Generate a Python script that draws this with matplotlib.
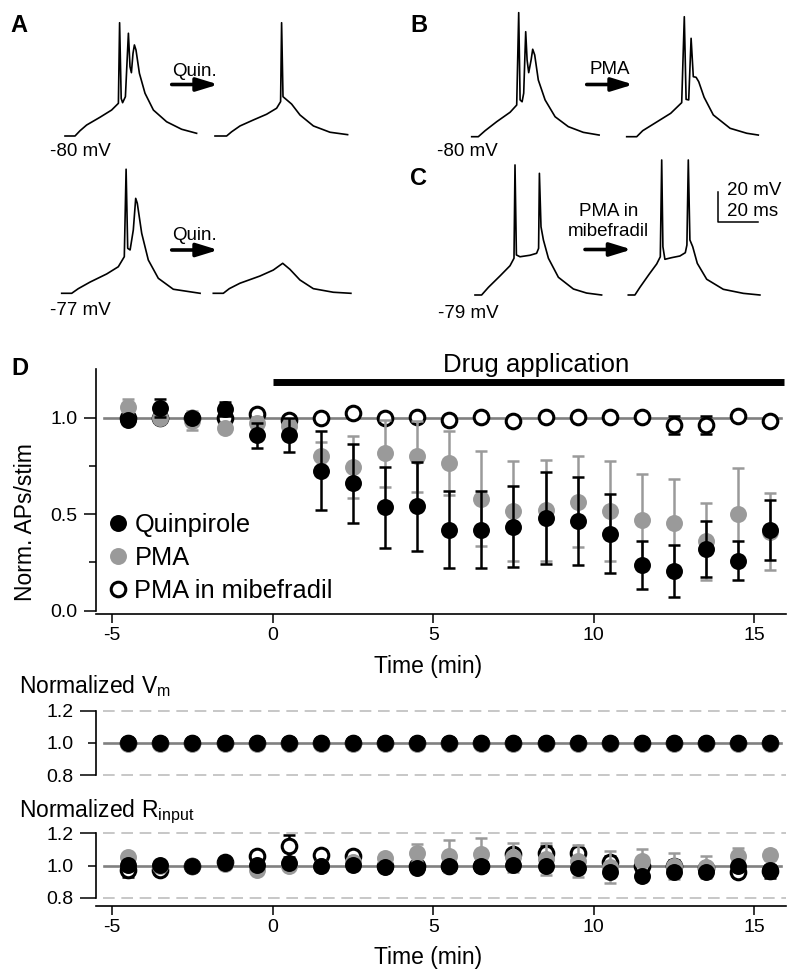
import matplotlib
matplotlib.use("Agg")
import matplotlib.pyplot as plt
from matplotlib.lines import Line2D

plt.rcParams["font.family"] = ["Liberation Sans", "DejaVu Sans"]
plt.rcParams["axes.unicode_minus"] = False
plt.rcParams["mathtext.default"] = "regular"
plt.rcParams["lines.scale_dashes"] = False

A_CTRL1_T = [0, 5, 7.5, 10.8, 17.5, 23.3, 26.7, 27.3, 28.1, 28.8, 30.2, 31.7, 32.5, 33.2, 34.0, 34.7, 35.5, 37.2, 40.0, 44.2, 50.8, 58.3, 65.8]
A_CTRL1_V = [-80, -80, -76.5, -72.7, -67.5, -62.7, -58.2, -4.5, -55, -57.8, -53.8, -11.5, -33.8, -37.8, -24.9, -19.3, -22.7, -38.2, -51.5, -62.7, -70.5, -75.5, -78.2]
A_QUIN1_T = [0, 5.8, 8.3, 12.5, 19.2, 25.8, 30.8, 32.8, 33.3, 34.0, 35.5, 38.3, 42.5, 49.2, 57.5, 66.3]
A_QUIN1_V = [-80, -80, -77.2, -73.3, -69.3, -65.5, -61.5, -57.1, -4.5, -53.8, -55.5, -58.7, -66, -73.3, -77.5, -79.1]
A_CTRL2_T = [0, 5, 8.3, 14.2, 22.5, 28.3, 31.3, 32.2, 33.0, 34.2, 35.8, 37.0, 37.8, 40.0, 43.3, 48.3, 55.8, 69.2]
A_CTRL2_V = [-77, -77, -73.9, -69.5, -64.1, -59.3, -52.6, 5.7, -47, -48.1, -34.8, -13.7, -17, -37, -54.8, -67, -74.3, -77]
A_QUIN2_T = [0, 5, 8, 13.3, 23.3, 30, 34.7, 38.3, 43.3, 50, 60, 68.8]
A_QUIN2_V = [-77, -77, -73.9, -70.3, -65.5, -61.5, -57, -61, -68.1, -73.9, -76.3, -77]
B_CTRL_T = [0, 3.3, 6.7, 12.5, 19.2, 22.5, 23.5, 24.2, 25.2, 26.0, 27.0, 27.7, 28.5, 29.7, 30.5, 31.5, 33.3, 36.7, 41.7, 48.3, 55.8, 63.7]
B_CTRL_V = [-80, -80, -76, -70, -63.7, -58.9, 2.7, -55.5, -56.7, -51, -10, -28.9, -37.3, -28.9, -21.7, -25.5, -42.2, -55.5, -66.7, -73.3, -77.1, -78.9]
B_PMA_T = [0, 5, 8, 15, 22, 27.5, 28.8, 29.7, 31.0, 32.2, 33.3, 34.7, 36.0, 38.7, 43.3, 51.7, 60, 65.8]
B_PMA_V = [-80, -80, -76, -70.2, -64.4, -57.3, 0, -55.1, -55.5, -14.4, -40, -40.4, -43.3, -53.7, -65.5, -74.4, -77.7, -78.9]
C_CTRL_T = [0, 3.3, 6.7, 12.5, 17.5, 19.5, 20.0, 20.7, 22.5, 27.5, 30.8, 31.8, 32.2, 33.0, 34.2, 36.7, 41.7, 49.2, 55.8, 63.3]
C_CTRL_V = [-79, -79, -73.9, -66.3, -59.5, -54.5, 7.7, -52.3, -53.5, -52.5, -51.2, -47.9, 2.1, -33.5, -42.3, -54.5, -67.2, -75, -77.7, -79]
C_PMA_T = [0, 3.3, 5.8, 10.5, 14.2, 16.0, 16.7, 17.3, 18.3, 21.7, 25.8, 28.5, 29.3, 30.0, 30.8, 32.2, 34.5, 39.2, 47.5, 57.5, 65.8]
C_PMA_V = [-79, -79, -73.9, -65, -58.3, -53.5, 11, -46.8, -55.2, -54.1, -53, -50.8, -45.7, 11, -42.3, -46.8, -57.9, -68.5, -75.2, -77.9, -79]

# ---- time course (min) ----
TIME = [-4.5, -3.5, -2.5, -1.5, -0.5, 0.5, 1.5, 2.5, 3.5, 4.5, 5.5,
        6.5, 7.5, 8.5, 9.5, 10.5, 11.5, 12.5, 13.5, 14.5, 15.5]

QUIN_AP = [0.99, 1.05, 1.00, 1.045, 0.91, 0.91, 0.725, 0.66, 0.535, 0.54, 0.42,
           0.42, 0.435, 0.48, 0.465, 0.40, 0.235, 0.205, 0.32, 0.26, 0.42]
QUIN_AP_ERR = [0.02, 0.045, 0.02, 0.035, 0.065, 0.09, 0.205, 0.205, 0.21, 0.23, 0.2,
               0.2, 0.21, 0.24, 0.23, 0.205, 0.125, 0.135, 0.146, 0.1, 0.156]
PMA_AP = [1.055, 1.0, 0.985, 0.945, 0.975, 0.955, 0.80, 0.745, 0.815, 0.80, 0.765,
          0.58, 0.515, 0.52, 0.565, 0.515, 0.47, 0.455, 0.36, 0.50, 0.41]
PMA_AP_ERR = [0.04, 0.03, 0.05, 0.02, 0.03, 0.03, 0.075, 0.16, 0.175, 0.185, 0.167,
              0.245, 0.26, 0.26, 0.235, 0.26, 0.24, 0.225, 0.2, 0.24, 0.2]
MIB_AP = [1.0, 1.0, 1.0, 1.0, 1.02, 0.99, 1.0, 1.026, 1.0, 1.005, 0.988,
          1.005, 0.985, 1.005, 1.005, 1.005, 1.005, 0.962, 0.962, 1.01, 0.985]
MIB_AP_ERR = [0.01, 0.01, 0.01, 0.01, 0.01, 0.02, 0.01, 0.01, 0.01, 0.01, 0.015,
              0.01, 0.01, 0.01, 0.01, 0.01, 0.01, 0.047, 0.047, 0.01, 0.01]

QUIN_VM = [1.0, 1.0, 1.0, 1.0, 1.0, 1.0, 1.0, 1.0, 1.0, 1.0, 1.0,
           1.0, 1.0, 1.0, 1.0, 1.0, 1.0, 1.0, 1.0, 1.0, 1.0]
PMA_VM = [0.995, 0.995, 0.995, 0.995, 0.995, 0.995, 0.995, 0.995, 0.995, 0.995, 0.995,
          0.995, 0.995, 0.995, 0.995, 0.995, 0.995, 0.995, 0.995, 0.995, 0.995]
MIB_VM = [1.0, 1.0, 1.0, 1.0, 1.0, 1.0, 1.0, 1.0, 1.0, 1.0, 1.0,
          1.0, 1.0, 1.0, 1.0, 1.0, 1.0, 1.0, 1.0, 1.0, 1.0]

QUIN_RI = [1.005, 1.005, 1.0, 1.015, 1.005, 1.015, 1.0, 1.005, 0.99, 0.985, 0.995,
           0.995, 1.005, 0.995, 0.985, 0.96, 0.935, 0.96, 0.96, 0.995, 0.975]
QUIN_RI_ERR = [0.015, 0.015, 0.01, 0.01, 0.015, 0.02, 0.015, 0.01, 0.01, 0.015, 0.015,
               0.015, 0.015, 0.015, 0.015, 0.02, 0.015, 0.02, 0.02, 0.02, 0.02]
PMA_RI = [1.05, 1.0, 1.0, 1.01, 0.975, 0.995, 1.0, 1.02, 1.045, 1.08, 1.06,
          1.07, 1.05, 1.04, 1.03, 0.99, 1.025, 0.995, 0.99, 1.06, 1.065]
PMA_RI_ERR = [0.02, 0.01, 0.01, 0.01, 0.02, 0.02, 0.01, 0.02, 0.025, 0.055, 0.1,
              0.1, 0.09, 0.1, 0.1, 0.1, 0.075, 0.08, 0.07, 0.05, 0.03]
MIB_RI = [0.975, 0.97, 1.0, 1.02, 1.06, 1.12, 1.065, 1.06, 1.0, 1.0, 1.0,
          1.0, 1.07, 1.08, 1.08, 1.02, 1.0, 0.995, 0.985, 0.96, 0.965]
MIB_RI_ERR = [0.045, 0.02, 0.01, 0.01, 0.02, 0.07, 0.03, 0.01, 0.01, 0.01, 0.01,
              0.01, 0.02, 0.04, 0.03, 0.04, 0.045, 0.04, 0.03, 0.03, 0.04]

W, H = 800, 977
GRAY = "#9a9a9a"
LINE_GRAY = "#808080"


def fx(x):
    return x / W


def fy(y):
    return 1 - y / H


fig = plt.figure(figsize=(W / 100, H / 100), dpi=100)

# ---------------- traces ----------------
axt = fig.add_axes([0, fy(300), 1, 300 / H])
axt.set_xlim(0, 400)   # 2 px per ms
axt.set_ylim(0, 200)   # 1.5 px per mV
axt.axis("off")

traces = [
    (A_CTRL1_T, A_CTRL1_V, 65, 136),
    (A_QUIN1_T, A_QUIN1_V, 215, 136),
    (A_CTRL2_T, A_CTRL2_V, 61.7, 293.3),
    (A_QUIN2_T, A_QUIN2_V, 213.3, 293.3),
    (B_CTRL_T, B_CTRL_V, 471.7, 136.7),
    (B_PMA_T, B_PMA_V, 626.7, 136.7),
    (C_CTRL_T, C_CTRL_V, 475, 295),
    (C_PMA_T, C_PMA_V, 628.3, 295),
]
for t, v, x0, y0 in traces:
    xs = [x0 / 2 + ti for ti in t]
    ys = [(300 - y0) / 1.5 + (vi - v[0]) for vi in v]
    axt.plot(xs, ys, color="black", lw=1.2, solid_joinstyle="round")


def arrow(x1, x2, y):
    axt.annotate("", xy=(x2 / 2, (300 - y) / 1.5), xytext=(x1 / 2, (300 - y) / 1.5),
                 arrowprops=dict(arrowstyle="-|>,head_length=0.65,head_width=0.2",
                                 lw=2.6, color="black", mutation_scale=20,
                                 shrinkA=0, shrinkB=0))


arrow(171.7, 218.3, 84.5)
arrow(171.7, 218.3, 250)
arrow(586.7, 633.3, 84.5)
arrow(585, 631.7, 249.5)

# scale bar 20 mV / 20 ms
axt.plot([718.3 / 2, 718.3 / 2, 718.3 / 2 + 20],
         [(300 - 221.7) / 1.5 + 20, (300 - 221.7) / 1.5, (300 - 221.7) / 1.5],
         color="black", lw=1.1)

TR_FS = 13.5
fig.text(fx(50), fy(156), "-80 mV", fontsize=TR_FS, va="baseline")
fig.text(fx(50), fy(315), "-77 mV", fontsize=TR_FS, va="baseline")
fig.text(fx(436.7), fy(156), "-80 mV", fontsize=TR_FS, va="baseline")
fig.text(fx(438), fy(318), "-79 mV", fontsize=TR_FS, va="baseline")
fig.text(fx(194.2), fy(75.5), "Quin.", fontsize=TR_FS, va="baseline", ha="center")
fig.text(fx(194.2), fy(240.5), "Quin.", fontsize=TR_FS, va="baseline", ha="center")
fig.text(fx(610), fy(74.5), "PMA", fontsize=TR_FS, va="baseline", ha="center")
fig.text(fx(608.3), fy(216), "PMA in", fontsize=TR_FS, va="baseline", ha="center")
fig.text(fx(608.3), fy(236), "mibefradil", fontsize=TR_FS, va="baseline", ha="center")
fig.text(fx(726.7), fy(195), "20 mV", fontsize=TR_FS, va="baseline")
fig.text(fx(726.7), fy(216), "20 ms", fontsize=TR_FS, va="baseline")

for letter, x, y in [("A", 10, 31.7), ("B", 410, 31.7), ("C", 410, 185), ("D", 11.7, 375)]:
    fig.text(fx(x), fy(y), letter, fontsize=17, fontweight="bold", va="baseline")

# ---------------- time course panels ----------------
AX_L = 96.2
AX_W = (786.3 - 96.2) / W
TICK_FS = 14
LAB_FS = 16.5

styles = {
    "mib": dict(mfc="white", mec="black", ms=10.5, mew=2.2, ecolor="black", zorder=3),
    "pma": dict(mfc=GRAY, mec=GRAY, ms=12.2, mew=0, ecolor=GRAY, zorder=4),
    "quin": dict(mfc="black", mec="black", ms=12.2, mew=0, ecolor="black", zorder=5),
}


def draw_series(ax, y, e, key):
    st = styles[key]
    if e is not None:
        ax.errorbar(TIME, y, yerr=e, fmt="none", ecolor=st["ecolor"], elinewidth=1.8,
                    capsize=4.2, capthick=1.8, zorder=st["zorder"], clip_on=False)
    ax.plot(TIME, y, ls="none", marker="o", mfc=st["mfc"], mec=st["mec"], ms=st["ms"],
            mew=st["mew"], zorder=st["zorder"] + 0.1, clip_on=False)


def ref_lines(ax, dashed):
    ax.plot([-5.25, 15.85], [1.0, 1.0], color=LINE_GRAY, lw=1.9, zorder=1, clip_on=False)
    if dashed:
        for yv in (0.8, 1.2):
            ax.plot([-5.3, 16.0], [yv, yv], color="#b8b8b8", lw=1.1,
                    ls=(0, (8.4, 4.8)), zorder=0, clip_on=False)


def base_axes(ax):
    for s in ("top", "right"):
        ax.spines[s].set_visible(False)
    for s in ("left", "bottom"):
        ax.spines[s].set_linewidth(1.2)
    ax.set_xlim(-5.5, 16)
    ax.tick_params(labelsize=TICK_FS, width=1.1, direction="out")


# Panel D
axD = fig.add_axes([fx(AX_L), fy(610.7), AX_W, (610.7 - 369.45) / H])
base_axes(axD)
axD.set_ylim(0, 1.25)
axD.spines["bottom"].set_position(("outward", 2.5))
axD.set_yticks([0, 0.5, 1.0])
axD.set_yticklabels(["0.0", "0.5", "1.0"])
axD.set_yticks([0.25, 0.75], minor=True)
axD.set_xticks([-5, 0, 5, 10, 15])
axD.tick_params(axis="y", which="major", length=8.4, pad=5)
axD.tick_params(axis="y", which="minor", length=4.8, width=1.1)
axD.tick_params(axis="x", length=6.5, pad=3)
ref_lines(axD, False)
draw_series(axD, MIB_AP, MIB_AP_ERR, "mib")
draw_series(axD, PMA_AP, PMA_AP_ERR, "pma")
draw_series(axD, QUIN_AP, QUIN_AP_ERR, "quin")
axD.plot([0, 15.93], [1.187, 1.187], color="black", lw=5, solid_capstyle="butt", clip_on=False)
axD.text(8.22, 1.237, "Drug application", fontsize=18.5, ha="center", va="baseline")
axD.set_xlabel("Time (min)", fontsize=LAB_FS)
axD.xaxis.set_label_coords((428 - AX_L) / 690.1, -0.185)
fig.text(fx(26), fy(522), "Norm. APs/stim", rotation=90, fontsize=LAB_FS, ha="center", va="center")

handles = [
    Line2D([], [], ls="none", marker="o", ms=12.2, mfc="black", mec="black", mew=0),
    Line2D([], [], ls="none", marker="o", ms=12.2, mfc=GRAY, mec=GRAY, mew=0),
    Line2D([], [], ls="none", marker="o", ms=10.5, mfc="white", mec="black", mew=2.2),
]
fig.legend(handles, ["Quinpirole", "PMA", "PMA in mibefradil"], loc="center left",
           bbox_to_anchor=(fx(109), fy(558)), frameon=False, fontsize=18.3,
           handlelength=0.7, handletextpad=0.3, labelspacing=0.35, borderpad=0,
           borderaxespad=0)


def small_axes(ax):
    base_axes(ax)
    ax.set_ylim(0.8, 1.2)
    ax.set_yticks([0.8, 1.2])
    ax.set_yticklabels(["0.8", "1.2"])
    ax.set_yticks([1.0], minor=True)
    ax.set_yticklabels(["1.0"], minor=True)
    ax.tick_params(axis="y", which="major", length=11.5, pad=5)
    ax.tick_params(axis="y", which="minor", length=5.5, width=1.1, pad=11, labelsize=TICK_FS)


# Vm
axV = fig.add_axes([fx(AX_L), fy(775), AX_W, 64.3 / H])
small_axes(axV)
axV.spines["bottom"].set_visible(False)
axV.set_xticks([])
ref_lines(axV, True)
draw_series(axV, MIB_VM, None, "mib")
draw_series(axV, PMA_VM, None, "pma")
draw_series(axV, QUIN_VM, None, "quin")
fig.text(fx(19), fy(693.3), "Normalized V$_{\\mathregular{m}}$", fontsize=LAB_FS, va="baseline")

# Rinput
axR = fig.add_axes([fx(AX_L), fy(897.7), AX_W, 64.4 / H])
small_axes(axR)
axR.spines["bottom"].set_position(("outward", 5.8))
axR.set_xticks([-5, 0, 5, 10, 15])
axR.tick_params(axis="x", length=6.5, pad=3)
ref_lines(axR, True)
draw_series(axR, MIB_RI, MIB_RI_ERR, "mib")
draw_series(axR, PMA_RI, PMA_RI_ERR, "pma")
draw_series(axR, QUIN_RI, QUIN_RI_ERR, "quin")
axR.set_xlabel("Time (min)", fontsize=LAB_FS)
axR.xaxis.set_label_coords((428 - AX_L) / 690.1, -0.75)
fig.text(fx(19), fy(816.7), "Normalized R$_{\\mathregular{input}}$", fontsize=LAB_FS, va="baseline")

fig.savefig("out.png", dpi=100)
